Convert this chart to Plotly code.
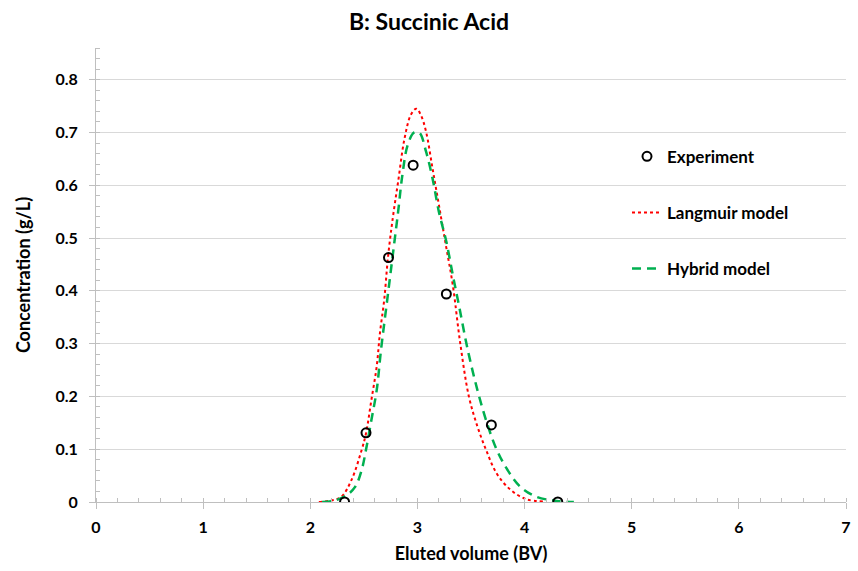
import plotly.graph_objects as go

# Experimental data
exp_x = [2.32, 2.52, 2.73, 2.96, 3.27, 3.69, 4.31]
exp_y = [0.0, 0.131, 0.463, 0.638, 0.394, 0.146, 0.0]

# Langmuir model
lang_x = [2.08, 2.20, 2.29, 2.385, 2.48, 2.52, 2.57, 2.62, 2.65, 2.69, 2.725, 2.77, 2.82, 2.88,
          2.94, 2.99, 3.03, 3.08, 3.14, 3.20, 3.265, 3.33, 3.40, 3.48, 3.56, 3.64, 3.74, 3.87,
          4.02, 4.18]
lang_y = [0.0, 0.003, 0.010, 0.042, 0.099, 0.130, 0.193, 0.257, 0.320, 0.383, 0.463, 0.538, 0.607,
          0.689, 0.734, 0.745, 0.734, 0.702, 0.633, 0.563, 0.487, 0.411, 0.300, 0.200, 0.143,
          0.099, 0.054, 0.023, 0.005, 0.001]

# Hybrid model
hyb_x = [2.11, 2.23, 2.34, 2.42, 2.48, 2.52, 2.57, 2.62, 2.66, 2.72, 2.77, 2.82, 2.86, 2.91,
         2.97, 3.02, 3.08, 3.14, 3.20, 3.27, 3.33, 3.39, 3.47, 3.56, 3.65, 3.74, 3.84, 3.96,
         4.11, 4.30, 4.46]
hyb_y = [0.0, 0.003, 0.013, 0.029, 0.061, 0.099, 0.155, 0.212, 0.288, 0.386, 0.468, 0.550, 0.620,
         0.677, 0.700, 0.699, 0.664, 0.614, 0.550, 0.493, 0.430, 0.370, 0.288, 0.212, 0.149,
         0.099, 0.061, 0.029, 0.010, 0.002, 0.0]

x_ticks = [0, 1, 2, 3, 4, 5, 6, 7]
y_ticks = [0, 0.1, 0.2, 0.3, 0.4, 0.5, 0.6, 0.7, 0.8]

FONT = "Lato"

fig = go.Figure()
fig.add_trace(go.Scatter(x=lang_x, y=lang_y, mode="lines", name="<b>Langmuir model</b>",
                         line=dict(color="#ff0000", width=2, dash="dot", shape="spline"),
                         legendgroup="b", legendrank=2))
fig.add_trace(go.Scatter(x=hyb_x, y=hyb_y, mode="lines", name="<b>Hybrid model</b>",
                         line=dict(color="#00b050", width=2.5, dash="9px,6px", shape="spline"),
                         legendgroup="c", legendrank=3))
fig.add_trace(go.Scatter(x=exp_x, y=exp_y, mode="markers", name="<b>Experiment</b>",
                         marker=dict(symbol="circle-open", size=9, color="#000000",
                                     line=dict(width=2, color="#000000")),
                         legendgroup="a", legendrank=1))

fig.update_layout(
    width=858, height=571,
    margin=dict(l=96, r=7, t=48, b=69),
    paper_bgcolor="white", plot_bgcolor="white",
    font=dict(family=FONT, color="#000000"),
    title=dict(text="<b>B: Succinic Acid</b>", x=0.5, xanchor="center", y=0.962, yanchor="middle",
               font=dict(size=23, family=FONT, color="#000000")),
    legend=dict(x=0.708, y=0.80, xanchor="left", yanchor="top",
                font=dict(size=17, family=FONT, color="#000000"),
                tracegroupgap=31, bgcolor="rgba(0,0,0,0)", itemwidth=30),
    showlegend=True,
)

fig.update_xaxes(
    range=[0, 7], tickvals=x_ticks, ticktext=[f"<b>{v}</b>" for v in x_ticks],
    showgrid=False, zeroline=False,
    showline=True, linecolor="#bfbfbf", linewidth=1,
    ticks="outside", ticklen=6, tickcolor="#bfbfbf", ticklabelstandoff=5,
    tickfont=dict(size=16, family=FONT, color="#000000"),
    minor=dict(dtick=0.2, ticks="inside", ticklen=4, tickcolor="#bfbfbf", showgrid=False),
    title=dict(text="<b>Eluted volume (BV)</b>", font=dict(size=18, family=FONT, color="#000000"),
               standoff=12),
)
fig.update_yaxes(
    range=[0, 0.86], tickvals=y_ticks, ticktext=[f"<b>{v:g}</b>" for v in y_ticks],
    showgrid=True, gridcolor="#d9d9d9", gridwidth=1, zeroline=False,
    showline=True, linecolor="#bfbfbf", linewidth=1,
    ticks="outside", ticklen=6, tickcolor="#bfbfbf", ticklabelstandoff=8,
    tickfont=dict(size=16, family=FONT, color="#000000"),
    minor=dict(dtick=0.02, ticks="inside", ticklen=4, tickcolor="#bfbfbf", showgrid=False),
    title=dict(text="<b>Concentration (g/L)</b>", font=dict(size=18, family=FONT, color="#000000"),
               standoff=20),
)

fig.write_html("out.html")
